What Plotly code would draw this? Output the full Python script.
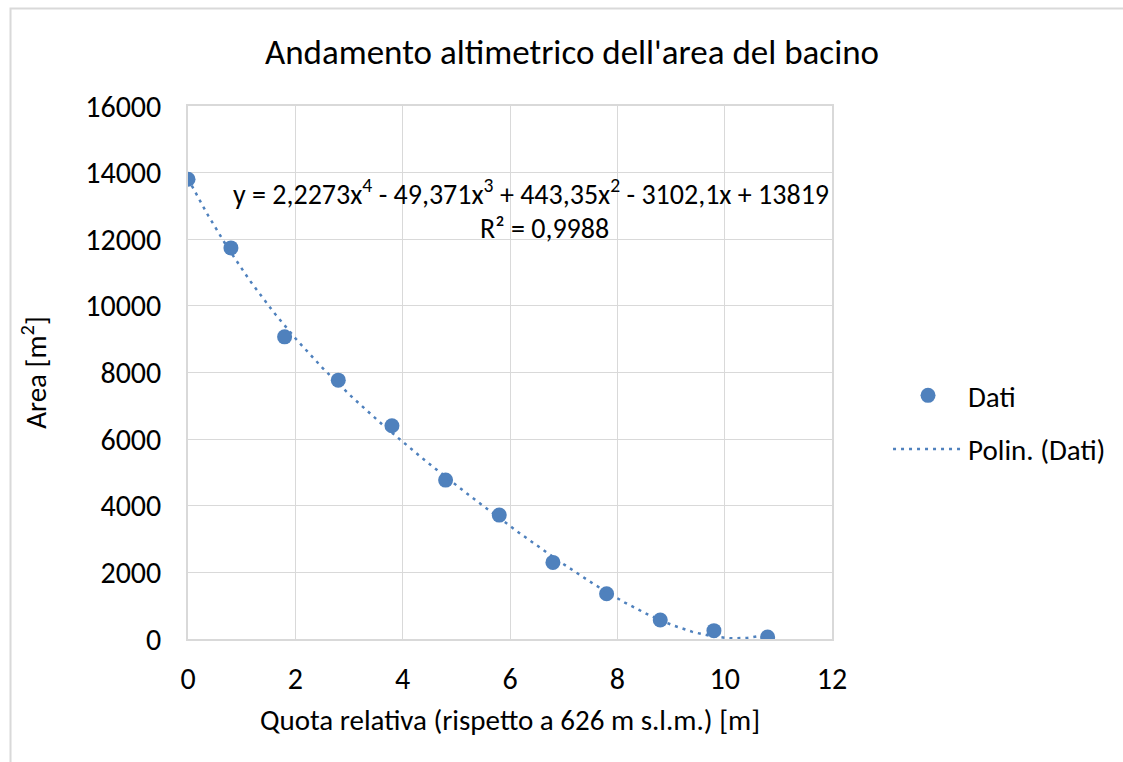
import numpy as np
import plotly.graph_objects as go

# Relative elevation of the basin levels [m] and corresponding area [m²]
quota = [0, 0.8, 1.8, 2.8, 3.8, 4.8, 5.8, 6.8, 7.8, 8.8, 9.8, 10.8]
area = [13800, 11740, 9070, 7770, 6400, 4770, 3720, 2300, 1360, 570, 250, 60]

# 4th-degree polynomial trendline coefficients (highest power first)
poly_coeffs = [2.2273, -49.371, 443.35, -3102.1, 13819]
r_squared = "0,9988"

x_ticks = [0, 2, 4, 6, 8, 10, 12]
y_ticks = [0, 2000, 4000, 6000, 8000, 10000, 12000, 14000, 16000]

BLUE = "#4F81BD"
GRID = "#d9d9d9"
FONT = "Carlito, Calibri, Lato, sans-serif"

x_fit = np.linspace(min(quota), max(quota), 200)
y_fit = np.polyval(poly_coeffs, x_fit)

fig = go.Figure()
fig.add_trace(go.Scatter(
    x=quota, y=area, mode="markers", name="Dati", legendgroup="dati",
    marker=dict(color=BLUE, size=15),
))
fig.add_trace(go.Scatter(
    x=x_fit, y=y_fit, mode="lines", name="Polin. (Dati)", legendgroup="polin",
    line=dict(color=BLUE, width=2.5, dash="3px,5px"),
))

axis_common = dict(
    showgrid=True, gridcolor=GRID, gridwidth=1,
    showline=True, linecolor=GRID, linewidth=1.5, mirror=True,
    zeroline=False, ticks="",
    tickfont=dict(family=FONT, size=30, color="#000000"),
    title_font=dict(family=FONT, size=29, color="#000000"),
)

fig.update_xaxes(
    range=[0, 12], tickvals=x_ticks, ticktext=[str(v) for v in x_ticks],
    title_text="Quota relativa (rispetto a 626 m s.l.m.) [m]",
    title_standoff=14, ticklabelstandoff=12,
    **axis_common,
)
fig.update_yaxes(
    range=[0, 16000], tickvals=y_ticks, ticktext=[str(v) for v in y_ticks],
    title_text="Area [m<sup>2</sup>]",
    title_standoff=30, ticklabelstandoff=19,
    **axis_common,
)

# Trendline equation and R²
fig.add_annotation(
    xref="paper", yref="paper", x=0.533, y=(639 - 192) / 533,
    text="y = 2,2273x<sup>4</sup> - 49,371x<sup>3</sup> + 443,35x<sup>2</sup> - 3102,1x + 13819",
    showarrow=False, font=dict(family=FONT, size=28, color="#000000"),
    xanchor="center", yanchor="middle",
)
fig.add_annotation(
    xref="paper", yref="paper", x=0.554, y=(639 - 229) / 533,
    text="R² = " + r_squared,
    showarrow=False, font=dict(family=FONT, size=28, color="#000000"),
    xanchor="center", yanchor="middle",
)

# Chart-area frame (top and left edges)
fig.add_shape(
    type="path", xref="paper", yref="paper",
    path="M -0.2756,-0.3 L -0.2756,1.1830 L 1.6,1.1830",
    line=dict(color=GRID, width=2),
)

fig.update_layout(
    width=1123, height=762,
    margin=dict(l=188, r=291, t=106, b=123),
    paper_bgcolor="white", plot_bgcolor="white",
    title=dict(
        text="Andamento altimetrico dell'area del bacino",
        xref="container", yref="container",
        x=572 / 1123, y=1 - 52 / 762, xanchor="center", yanchor="middle",
        font=dict(family=FONT, size=35, color="#000000"),
    ),
    legend=dict(
        x=1.087, y=(639 - 370) / 533, xanchor="left", yanchor="top",
        font=dict(family=FONT, size=29, color="#000000"),
        tracegroupgap=13, itemwidth=70,
        bgcolor="rgba(0,0,0,0)",
    ),
    showlegend=True,
)

fig.write_html("out.html")
